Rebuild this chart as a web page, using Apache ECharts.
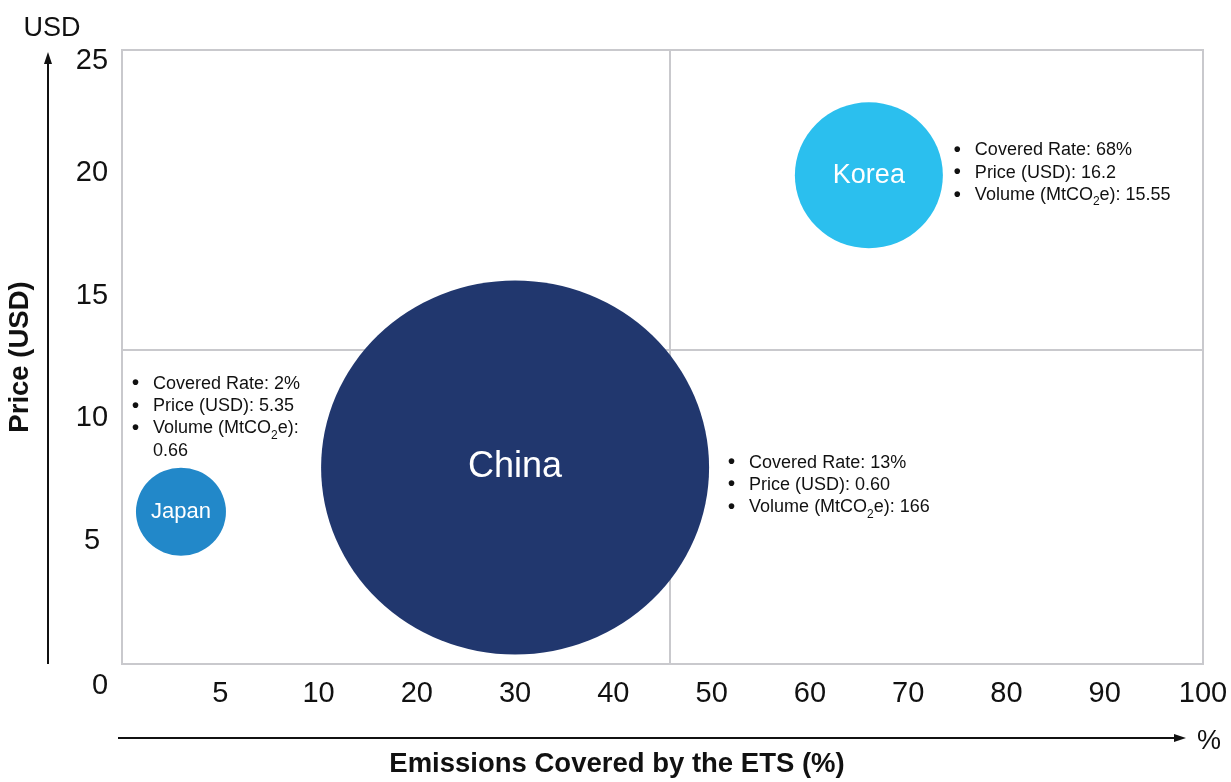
<!DOCTYPE html>
<html>
<head>
<meta charset="utf-8">
<script src="https://cdn.jsdelivr.net/npm/echarts@6.0.0/dist/echarts.min.js"></script>
<style>
  html, body { margin: 0; padding: 0; background: #ffffff; }
  #chart { width: 1231px; height: 782px; }
</style>
</head>
<body>
<div id="chart"></div>
<script>
// ---- data ----
const countries   = ['Japan', 'China', 'Korea'];
const coveredRate = ['2%', '13%', '68%'];
const priceUSD    = ['5.35', '0.60', '16.2'];
const volumeMt    = ['0.66', '166', '15.55'];
const xPlot = [3, 30, 66];
const yPlot = [6.2, 8.0, 19.9];
// x tick labels (evenly spaced on the drawing)
const xTickLabels = ['0', '5', '10', '20', '30', '40', '50', '60', '70', '80', '90', '100'];
const xTickValues = [0, 5, 10, 20, 30, 40, 50, 60, 70, 80, 90, 100];
// quadrant dividers (display scale)
const dividerX = 45.7;
const dividerY = 12.8;

// ---- styles ----
const FONT = 'Liberation Sans';
const bubbleColors = ['#2288C9', '#21376E', '#2BBFEE'];
const bubbleSizes  = [[90, 88], [388, 374], [148, 146]];
const nameFontSize = [22, 36, 27];
const annoPos      = [[-4, -95], [407, 171], [159, 37]];

function toIdx(v) {
  for (let i = 0; i < xTickValues.length - 1; i++) {
    if (v <= xTickValues[i + 1]) {
      return i + (v - xTickValues[i]) / (xTickValues[i + 1] - xTickValues[i]);
    }
  }
  return xTickValues.length - 1;
}

const bubbleData = countries.map((c, i) => ({
  name: c,
  value: [toIdx(xPlot[i]), yPlot[i]],
  symbolSize: bubbleSizes[i],
  itemStyle: { color: bubbleColors[i], opacity: 1 },
  label: { fontSize: nameFontSize[i] }
}));

function annoText(i) {
  const lines = [
    '{b|•}Covered Rate: ' + coveredRate[i],
    '{b|•}Price (USD): ' + priceUSD[i]
  ];
  if (countries[i] === 'Japan') {
    lines.push('{b|•}Volume (MtCO{s|2}e):');
    lines.push('{b| }' + volumeMt[i]);
  } else {
    lines.push('{b|•}Volume (MtCO{s|2}e): ' + volumeMt[i]);
  }
  return lines.join('\n');
}

const annoData = countries.map((c, i) => ({
  name: c,
  value: [toIdx(xPlot[i]), yPlot[i]],
  symbolSize: bubbleSizes[i],
  label: { position: annoPos[i] }
}));

const chart = echarts.init(document.getElementById('chart'));
const option = {
  backgroundColor: '#ffffff',
  animation: false,
  textStyle: { fontFamily: FONT },
  grid: {
    left: 122, right: 28, top: 50, bottom: 118,
    containLabel: false, outerBoundsMode: 'none',
    show: true, borderColor: '#C9C9CD', borderWidth: 2, backgroundColor: 'transparent'
  },
  xAxis: {
    type: 'value', min: 0, max: xTickLabels.length - 1, interval: 1,
    axisLine: { show: false }, axisTick: { show: false }, splitLine: { show: false },
    axisLabel: {
      margin: 15, fontSize: 29, color: '#111', fontFamily: FONT,
      formatter: v => (v === 0 ? '' : xTickLabels[v])
    }
  },
  yAxis: {
    type: 'value', min: 0, max: 25, interval: 5,
    axisLine: { show: false }, axisTick: { show: false }, splitLine: { show: false },
    axisLabel: {
      margin: 30, align: 'center', fontSize: 29, color: '#111', fontFamily: FONT,
      formatter: v => (v === 0 ? '' : (v === 25 ? '{top|' + v + '}' : String(v))),
      rich: { top: { fontSize: 29, padding: [22, 0, 0, 0], color: '#111', fontFamily: FONT } }
    }
  },
  series: [
    {
      type: 'scatter', z: 1, zlevel: 0, silent: true, data: [],
      markLine: {
        silent: true, symbol: 'none', animation: false,
        lineStyle: { color: '#C9C9CD', width: 2, type: 'solid' },
        label: { show: false },
        data: [{ xAxis: toIdx(dividerX) }, { yAxis: dividerY }]
      }
    },
    {
      type: 'scatter', z: 3, zlevel: 1, silent: true,
      symbol: 'circle',
      data: bubbleData,
      itemStyle: { opacity: 1 },
      label: {
        show: true, position: 'inside', color: '#ffffff', fontFamily: FONT,
        formatter: p => p.name
      }
    },
    {
      type: 'scatter', z: 4, zlevel: 1, silent: true,
      symbol: 'circle',
      itemStyle: { color: 'rgba(0,0,0,0)', opacity: 1 },
      data: annoData,
      label: {
        show: true, align: 'left', verticalAlign: 'top', opacity: 1,
        fontSize: 18, lineHeight: 22.3, color: '#111', fontFamily: FONT,
        formatter: p => annoText(countries.indexOf(p.name)),
        rich: {
          b: { width: 21, fontSize: 20, fontWeight: 'bold', lineHeight: 22.3, color: '#111', fontFamily: FONT },
          s: { fontSize: 12, lineHeight: 8, padding: [14, 0, 0, 0], color: '#111', fontFamily: FONT }
        }
      }
    }
  ]
};
chart.setOption(option);

const origin = chart.convertToPixel({ gridIndex: 0 }, [0, 0]);
chart.setOption({
  graphic: [
    // y-axis arrow
    { type: 'line', shape: { x1: 48, y1: 664, x2: 48, y2: 62 }, style: { stroke: '#111', lineWidth: 2 } },
    { type: 'polygon', shape: { points: [[48, 52], [44, 64], [52, 64]] }, style: { fill: '#111' } },
    // x-axis arrow
    { type: 'line', shape: { x1: 118, y1: 738, x2: 1176, y2: 738 }, style: { stroke: '#111', lineWidth: 2 } },
    { type: 'polygon', shape: { points: [[1186, 738], [1174, 734], [1174, 742]] }, style: { fill: '#111' } },
    // axis unit texts
    { type: 'text', x: 52, y: 29, style: { text: 'USD', font: '27px "' + FONT + '"', fill: '#111', align: 'center', verticalAlign: 'middle' } },
    { type: 'text', x: 1209, y: 742, style: { text: '%', font: '27px "' + FONT + '"', fill: '#111', align: 'center', verticalAlign: 'middle' } },
    { type: 'text', x: origin[0] - 22, y: origin[1] + 22, style: { text: xTickLabels[0], font: '29px "' + FONT + '"', fill: '#111', align: 'center', verticalAlign: 'middle' } },
    // axis titles
    { type: 'text', x: 20, y: 357, rotation: Math.PI / 2, style: { text: 'Price (USD)', font: 'bold 27.5px "' + FONT + '"', fill: '#111', align: 'center', verticalAlign: 'middle' } },
    { type: 'text', x: 617, y: 764, style: { text: 'Emissions Covered by the ETS (%)', font: 'bold 27.5px "' + FONT + '"', fill: '#111', align: 'center', verticalAlign: 'middle' } }
  ]
});
</script>
</body>
</html>
